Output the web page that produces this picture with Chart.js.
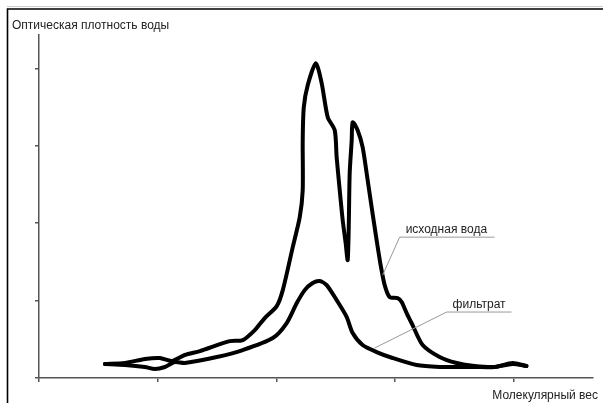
<!DOCTYPE html>
<html>
<head>
<meta charset="utf-8">
<script src="https://cdn.jsdelivr.net/npm/chart.js@4.4.1/dist/chart.umd.min.js"></script>
<style>
  body { margin: 0; background: #fff; }
  canvas { display: block; }
</style>
</head>
<body>
<canvas id="canvas" width="603" height="403"></canvas>
<script>
let ctx = document.getElementById('canvas').getContext('2d');

// axis ticks (no labels in the original, just marks)
const xTicks = [0, 1, 2, 3, 4];
const yTicks = [0, 1, 2, 3, 4];

// исходная вода
const rawX = [0.556, 0.724, 0.893, 1.019, 1.120, 1.229, 1.356, 1.608, 1.718, 1.819, 1.903, 2.004, 2.055,
  2.139, 2.198, 2.223, 2.223, 2.232, 2.265, 2.333, 2.383, 2.434, 2.493, 2.509, 2.535, 2.560, 2.585, 2.602,
  2.611, 2.619, 2.636, 2.644, 2.686, 2.728, 2.762, 2.804, 2.846, 2.880, 2.914, 2.956, 3.023, 3.057, 3.099,
  3.149, 3.234, 3.377, 3.520, 3.672, 3.840, 3.992, 4.109];
const rawY = [0.181, 0.194, 0.245, 0.258, 0.219, 0.297, 0.348, 0.477, 0.490, 0.619, 0.774, 0.929, 1.135,
  1.690, 2.077, 2.426, 3.071, 3.497, 3.781, 4.065, 3.806, 3.368, 3.200, 2.852, 2.426, 2.039, 1.742, 1.523,
  1.948, 2.645, 3.071, 3.303, 3.200, 2.981, 2.645, 2.206, 1.781, 1.458, 1.200, 1.045, 1.032, 0.981, 0.839,
  0.684, 0.426, 0.271, 0.194, 0.155, 0.142, 0.194, 0.155];

// фильтрат
const filtX = [0.556, 0.724, 0.893, 0.977, 1.061, 1.145, 1.229, 1.499, 1.718, 1.971, 2.088, 2.173, 2.240,
  2.307, 2.366, 2.425, 2.509, 2.594, 2.644, 2.728, 2.846, 2.981, 3.183, 3.377, 3.520, 3.672, 3.840, 3.992, 4.109];
const filtY = [0.181, 0.168, 0.142, 0.116, 0.142, 0.206, 0.194, 0.271, 0.361, 0.516, 0.710, 0.968, 1.135,
  1.226, 1.252, 1.200, 1.006, 0.787, 0.581, 0.426, 0.335, 0.258, 0.168, 0.142, 0.142, 0.142, 0.142, 0.181, 0.155];

const titleText = 'Оптическая плотность воды';
const xAxisText = 'Молекулярный вес';

// callouts: point on curve, elbow, end of underline, label
const callouts = [
  { text: 'исходная вода', from: [2.897, 1.329], elbow: [3.04, 1.819], end: [3.84, 1.819] },
  { text: 'фильтрат', from: [2.829, 0.387], elbow: [3.436, 0.852], end: [3.983, 0.852] }
];

const toPoints = (xs, ys) => xs.map((x, i) => ({ x: x, y: ys[i] }));

const font = '12px "Liberation Sans", Arial, sans-serif';

const decor = {
  id: 'decor',
  beforeDraw(chart) {
    const c = chart.ctx;
    c.save();
    c.fillStyle = '#fff';
    c.fillRect(0, 0, chart.width, chart.height);
    // frame
    c.strokeStyle = '#ccc';
    c.lineWidth = 1;
    c.beginPath();
    c.moveTo(7, 6.5); c.lineTo(603, 6.5);
    c.stroke();
    c.strokeStyle = '#000';
    c.lineWidth = 1.6;
    c.beginPath();
    c.moveTo(7.5, 403); c.lineTo(7.5, 9); c.lineTo(603, 9);
    c.stroke();
    c.restore();
  },
  afterDraw(chart) {
    const c = chart.ctx;
    const xs = chart.scales.x, ys = chart.scales.y;
    c.save();
    c.font = font;
    c.fillStyle = '#222';
    c.textBaseline = 'middle';
    c.textAlign = 'left';
    c.fillText(titleText, 12, 26);
    c.textAlign = 'right';
    c.fillText(xAxisText, 598, 396);

    c.strokeStyle = '#999';
    c.lineWidth = 1;
    c.textAlign = 'left';
    c.textBaseline = 'alphabetic';
    callouts.forEach(co => {
      const p = a => [xs.getPixelForValue(a[0]), ys.getPixelForValue(a[1])];
      const f = p(co.from), e = p(co.elbow), n = p(co.end);
      c.beginPath();
      c.moveTo(f[0], f[1]); c.lineTo(e[0], e[1]); c.lineTo(n[0], e[1]);
      c.stroke();
      c.fillText(co.text, e[0] + 6, e[1] - 4);
    });
    c.restore();
  }
};

const axisOpts = (ticks, max, fit) => ({
  type: 'linear',
  min: 0,
  max: max,
  afterBuildTicks: s => { s.ticks = ticks.map(v => ({ value: v })); },
  afterFit: fit,
  ticks: { display: false },
  grid: { drawOnChartArea: false, drawTicks: true, tickLength: 4, color: '#555', lineWidth: 1.5 },
  border: { display: true, color: '#555', width: 1.5 }
});

const lineStyle = {
  showLine: true,
  fill: false,
  borderColor: '#000',
  backgroundColor: '#000',
  borderWidth: 4,
  borderJoinStyle: 'round',
  borderCapStyle: 'round',
  pointRadius: 0,
  tension: 0.25
};

function init() {
  let chart = new Chart(ctx, {
    type: 'scatter',
    data: {
      datasets: [
        Object.assign({ label: 'исходная вода', data: toPoints(rawX, rawY) }, lineStyle),
        Object.assign({ label: 'фильтрат', data: toPoints(filtX, filtY) }, lineStyle)
      ]
    },
    options: {
      responsive: false,
      animation: false,
      layout: { padding: { left: 35, top: 35, right: 10, bottom: 21 } },
      plugins: { legend: { display: false }, tooltip: { enabled: false }, title: { display: false } },
      scales: {
        x: axisOpts(xTicks, 4.67, s => { s.height = 4; }),
        y: axisOpts(yTicks, 4.43, s => { s.width = 4; })
      }
    },
    plugins: [decor]
  });
}

init();
</script>
</body>
</html>
